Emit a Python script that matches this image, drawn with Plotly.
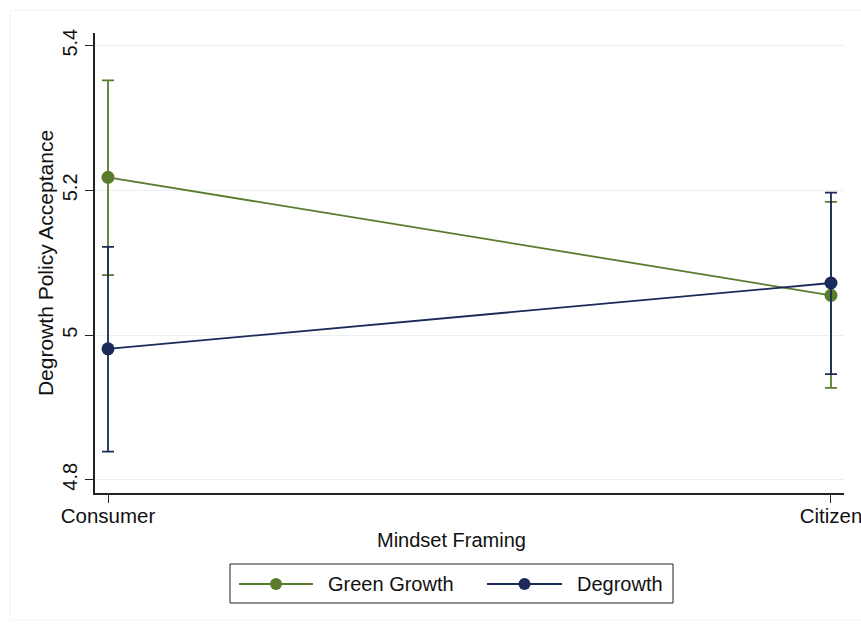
import plotly.graph_objects as go

categories = ["Consumer", "Citizen"]
green_mean = [5.218, 5.055]
green_upper = [5.352, 5.184]
green_lower = [5.083, 4.927]
degrowth_mean = [4.981, 5.072]
degrowth_upper = [5.122, 5.197]
degrowth_lower = [4.839, 4.946]
y_ticks = [4.8, 5.0, 5.2, 5.4]
y_ticklabels = ["4.8", "5", "5.2", "5.4"]
series_names = ["Green Growth", "Degrowth"]

GREEN = "#587c2c"
NAVY = "#1b2a58"
FONT = "Liberation Sans, Arial, sans-serif"

W, H = 861, 628
L, R, T, B = 95, 17, 33, 135
PW, PH = W - L - R, H - T - B

def px(x):
    return (x - L) / PW

def py(y):
    return (H - B - y) / PH

def trace(name, mean, upper, lower, color):
    return go.Scatter(
        x=categories, y=mean, name=name, mode="lines+markers",
        line=dict(color=color, width=1.8),
        marker=dict(color=color, size=13),
        error_y=dict(type="data", symmetric=False,
                     array=[u - m for u, m in zip(upper, mean)],
                     arrayminus=[m - l for m, l in zip(mean, lower)],
                     color=color, thickness=1.8, width=6),
        showlegend=False,
    )

fig = go.Figure()
fig.add_trace(trace(series_names[0], green_mean, green_upper, green_lower, GREEN))
fig.add_trace(trace(series_names[1], degrowth_mean, degrowth_upper, degrowth_lower, NAVY))

shapes = [
    dict(type="rect", xref="paper", yref="paper",
         x0=px(10), x1=px(880), y0=py(620), y1=py(10),
         line=dict(color="#f2f2f2", width=1), layer="below"),
    # legend box
    dict(type="rect", xref="paper", yref="paper",
         x0=px(230), x1=px(673), y0=py(603), y1=py(564),
         line=dict(color="#222222", width=1)),
]
annotations = [
    dict(text="Mindset Framing", xref="paper", yref="paper",
         x=px(451), y=py(540), xanchor="center", yanchor="middle",
         showarrow=False, font=dict(size=20)),
]
legend_items = [
    (series_names[0], GREEN, 239, 313, 326),
    (series_names[1], NAVY, 487, 562, 575),
]
for name, color, x0, x1, tx in legend_items:
    shapes.append(dict(type="line", xref="paper", yref="paper",
                       x0=px(x0), x1=px(x1), y0=py(584), y1=py(584),
                       line=dict(color=color, width=1.8)))
    cx = (x0 + x1) / 2
    shapes.append(dict(type="circle", xref="paper", yref="paper",
                       x0=px(cx - 6), x1=px(cx + 6), y0=py(590), y1=py(578),
                       fillcolor=color, line=dict(color=color, width=0)))
    annotations.append(dict(text=name, xref="paper", yref="paper",
                            x=px(tx), y=py(584), xanchor="left", yanchor="middle",
                            showarrow=False, font=dict(size=20)))

fig.update_layout(
    width=W, height=H,
    margin=dict(l=L, r=R, t=T, b=B, autoexpand=False),
    paper_bgcolor="white", plot_bgcolor="white",
    font=dict(family=FONT, size=20, color="#111111"),
    showlegend=False,
    shapes=shapes, annotations=annotations,
)
fig.update_xaxes(
    type="category", range=[-0.018, 1.018],
    showline=True, linecolor="#222222", linewidth=1.5,
    ticks="outside", ticklen=8, tickcolor="#222222", tickwidth=1.2,
    showgrid=False, zeroline=False, automargin=False,
    ticklabelstandoff=-4,
    tickfont=dict(size=20.5),
)
fig.update_yaxes(
    range=[4.7818, 5.4175],
    tickvals=y_ticks, ticktext=y_ticklabels, tickangle=-90,
    showline=True, linecolor="#222222", linewidth=1.5,
    ticks="outside", ticklen=8, tickcolor="#222222", tickwidth=1.2,
    showgrid=True, gridcolor="#e8f1f2", gridwidth=1, zeroline=False, automargin=False,
    title=dict(text="Degrowth Policy Acceptance", standoff=0, font=dict(size=21)),
    tickfont=dict(size=20),
)

fig.write_html("out.html")
